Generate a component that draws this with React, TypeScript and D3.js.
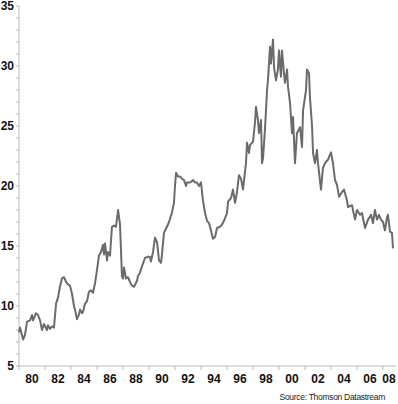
import React from "react";
import * as d3 from "d3";

const years: number[] = [
  1980.0, 1980.08, 1980.31, 1980.46, 1980.62, 1980.85, 1981.0, 1981.08, 1981.31, 1981.46,
  1981.62, 1981.77, 1981.92, 1982.15, 1982.23, 1982.38, 1982.54, 1982.69, 1982.85, 1983.0,
  1983.15, 1983.31, 1983.46, 1983.62, 1983.77, 1983.92, 1984.08, 1984.23, 1984.31, 1984.46,
  1984.62, 1984.69, 1984.85, 1984.92, 1985.08, 1985.23, 1985.38, 1985.54, 1985.69, 1985.85,
  1986.0, 1986.15, 1986.31, 1986.46, 1986.54, 1986.62, 1986.77, 1986.85, 1987.0, 1987.15,
  1987.31, 1987.46, 1987.62, 1987.77, 1987.92, 1988.0, 1988.08, 1988.23, 1988.38, 1988.54,
  1988.69, 1988.85, 1989.08, 1989.15, 1989.31, 1989.46, 1989.69, 1989.92, 1990.08, 1990.15,
  1990.31, 1990.46, 1990.62, 1990.77, 1990.92, 1991.0, 1991.15, 1991.38, 1991.54, 1991.77,
  1991.92, 1992.0, 1992.08, 1992.23, 1992.38, 1992.54, 1992.69, 1992.85, 1992.92, 1993.15,
  1993.31, 1993.38, 1993.54, 1993.69, 1993.85, 1994.0, 1994.15, 1994.31, 1994.46, 1994.62,
  1994.77, 1994.92, 1995.08, 1995.23, 1995.46, 1995.62, 1995.77, 1996.0, 1996.08, 1996.31,
  1996.46, 1996.62, 1996.77, 1996.92, 1997.08, 1997.23, 1997.46, 1997.54, 1997.69, 1997.77,
  1998.0, 1998.15, 1998.23, 1998.38, 1998.46, 1998.62, 1998.69, 1998.77, 1998.92, 1999.08,
  1999.15, 1999.31, 1999.38, 1999.54, 1999.62, 1999.77, 1999.92, 2000.0, 2000.15, 2000.23,
  2000.38, 2000.46, 2000.62, 2000.69, 2000.85, 2001.0, 2001.08, 2001.23, 2001.38, 2001.62,
  2001.77, 2001.85, 2002.08, 2002.15, 2002.31, 2002.38, 2002.54, 2002.62, 2002.77, 2002.92,
  2003.0, 2003.23, 2003.38, 2003.54, 2003.77, 2004.0, 2004.15, 2004.31, 2004.46, 2004.62,
  2004.85, 2005.0, 2005.23, 2005.31, 2005.62, 2005.69, 2005.85, 2006.0, 2006.23, 2006.38,
  2006.62, 2006.85, 2007.08, 2007.23, 2007.38, 2007.54, 2007.69, 2007.85, 2008.0, 2008.15,
  2008.31, 2008.38, 2008.54, 2008.69, 2008.77,
];

const values: number[] = [
  7.8, 8.2, 7.2, 7.6, 8.7, 8.8, 9.25, 8.8, 9.4, 9.25,
  8.8, 8.0, 8.5, 8.0, 8.4, 8.1, 8.3, 8.2, 10.2, 10.7,
  11.6, 12.3, 12.4, 12.0, 11.8, 11.7, 11.0, 10.0, 9.7, 8.9,
  9.3, 9.7, 9.4, 9.5, 10.2, 10.4, 11.2, 11.3, 11.1, 11.9,
  13.0, 14.2, 14.5, 15.1, 14.3, 15.2, 13.8, 14.5, 14.2, 16.6,
  16.7, 16.6, 18.0, 16.8, 12.5, 12.3, 13.2, 12.3, 12.4, 12.0,
  11.7, 11.6, 12.1, 12.5, 12.8, 13.3, 14.0, 14.1, 14.1, 13.7,
  14.5, 15.7, 15.3, 13.8, 13.6, 14.3, 16.1, 16.6, 17.0, 17.8,
  18.6, 20.0, 21.1, 20.8, 20.8, 20.6, 20.5, 20.0, 20.3, 20.3,
  20.4, 20.5, 20.3, 20.3, 20.0, 20.3, 18.8, 17.75, 17.1, 16.9,
  16.3, 15.6, 15.75, 16.5, 16.6, 16.8, 17.1, 17.75, 18.7, 19.0,
  19.7, 18.6, 19.5, 20.9, 20.6, 19.7, 21.9, 23.6, 22.75, 23.4,
  23.7, 25.25, 26.6, 25.5, 24.4, 25.5, 21.9, 22.3, 24.7, 28.0,
  28.8, 31.6, 30.2, 32.2, 29.9, 28.8, 29.7, 31.3, 29.1, 31.3,
  29.4, 28.6, 29.7, 28.3, 26.9, 24.4, 25.75, 21.9, 24.4, 24.9,
  23.25, 26.3, 28.0, 29.7, 29.4, 27.4, 25.0, 22.75, 21.9, 23.0,
  21.9, 19.7, 21.5, 21.9, 22.2, 22.8, 21.9, 20.5, 20.1, 19.1,
  19.5, 19.7, 18.8, 18.25, 18.4, 18.0, 17.2, 18.0, 17.6, 17.75,
  16.5, 17.2, 17.6, 16.9, 18.0, 17.2, 17.6, 17.2, 17.0, 16.3,
  17.4, 17.6, 16.2, 16.1, 14.8,
];

const xTickYears: number[] = [1980, 1982, 1984, 1986, 1988, 1990, 1992, 1994, 1996, 1998, 2000, 2002, 2004, 2006, 2008];
const xTickLabels: string[] = ["80", "82", "84", "86", "88", "90", "92", "94", "96", "98", "00", "02", "04", "06", "08"];
const yLabels: number[] = [5, 10, 15, 20, 25, 30, 35];
const sourceText = "Source: Thomson Datastream";

const W = 398;
const H = 404;
const left = 19;
const right = 396;
const top = 6;
const bottom = 366;

export default function App() {
  const x = d3.scaleLinear().domain([1980, 2009]).range([left, right]);
  const y = d3.scaleLinear().domain([5, 35]).range([bottom, top]);
  const pts = years.map((yr, i) => [yr, values[i]] as [number, number]);
  const line = d3
    .line<[number, number]>()
    .x((d) => x(d[0]))
    .y((d) => y(d[1]));
  const minor = d3.range(5, 36, 1);
  const axisColor = "#b8b8b8";
  const font = "'Liberation Sans', Arial, sans-serif";

  return (
    <svg
      width={W}
      height={H}
      style={{ position: "absolute", left: 0, top: 0, background: "#fff" }}
    >
      {/* y axis */}
      <line x1={left} x2={left} y1={top} y2={bottom} stroke={axisColor} strokeWidth={1} />
      {minor.map((v) => (
        <line key={"yt" + v} x1={left - 3} x2={left} y1={y(v)} y2={y(v)} stroke={axisColor} strokeWidth={1} />
      ))}
      {yLabels.map((v) => (
        <text
          key={"yl" + v}
          x={14}
          y={y(v)}
          dy="0.36em"
          textAnchor="end"
          fontFamily={font}
          fontWeight="bold"
          fontSize={12}
          fill="#111"
        >
          {v}
        </text>
      ))}
      {/* x axis */}
      <line x1={left} x2={right} y1={bottom} y2={bottom} stroke={axisColor} strokeWidth={1} />
      {xTickYears.map((yr) => (
        <line key={"xt" + yr} x1={x(yr)} x2={x(yr)} y1={bottom} y2={bottom + 4} stroke={axisColor} strokeWidth={1} />
      ))}
      {xTickYears.map((yr, i) => (
        <text
          key={"xl" + yr}
          x={Math.min(x(yr + 1), 389)}
          y={bottom + 13}
          dy="0.36em"
          textAnchor="middle"
          fontFamily={font}
          fontWeight="bold"
          fontSize={12}
          fill="#111"
        >
          {xTickLabels[i]}
        </text>
      ))}
      {/* series */}
      <path d={line(pts) ?? ""} fill="none" stroke="#6b6b6b" strokeWidth={2} strokeLinejoin="round" />
      <text
        x={385}
        y={400}
        textAnchor="end"
        fontFamily={font}
        fontSize={8.5}
        letterSpacing={-0.3}
        fill="#222"
      >
        {sourceText}
      </text>
    </svg>
  );
}
